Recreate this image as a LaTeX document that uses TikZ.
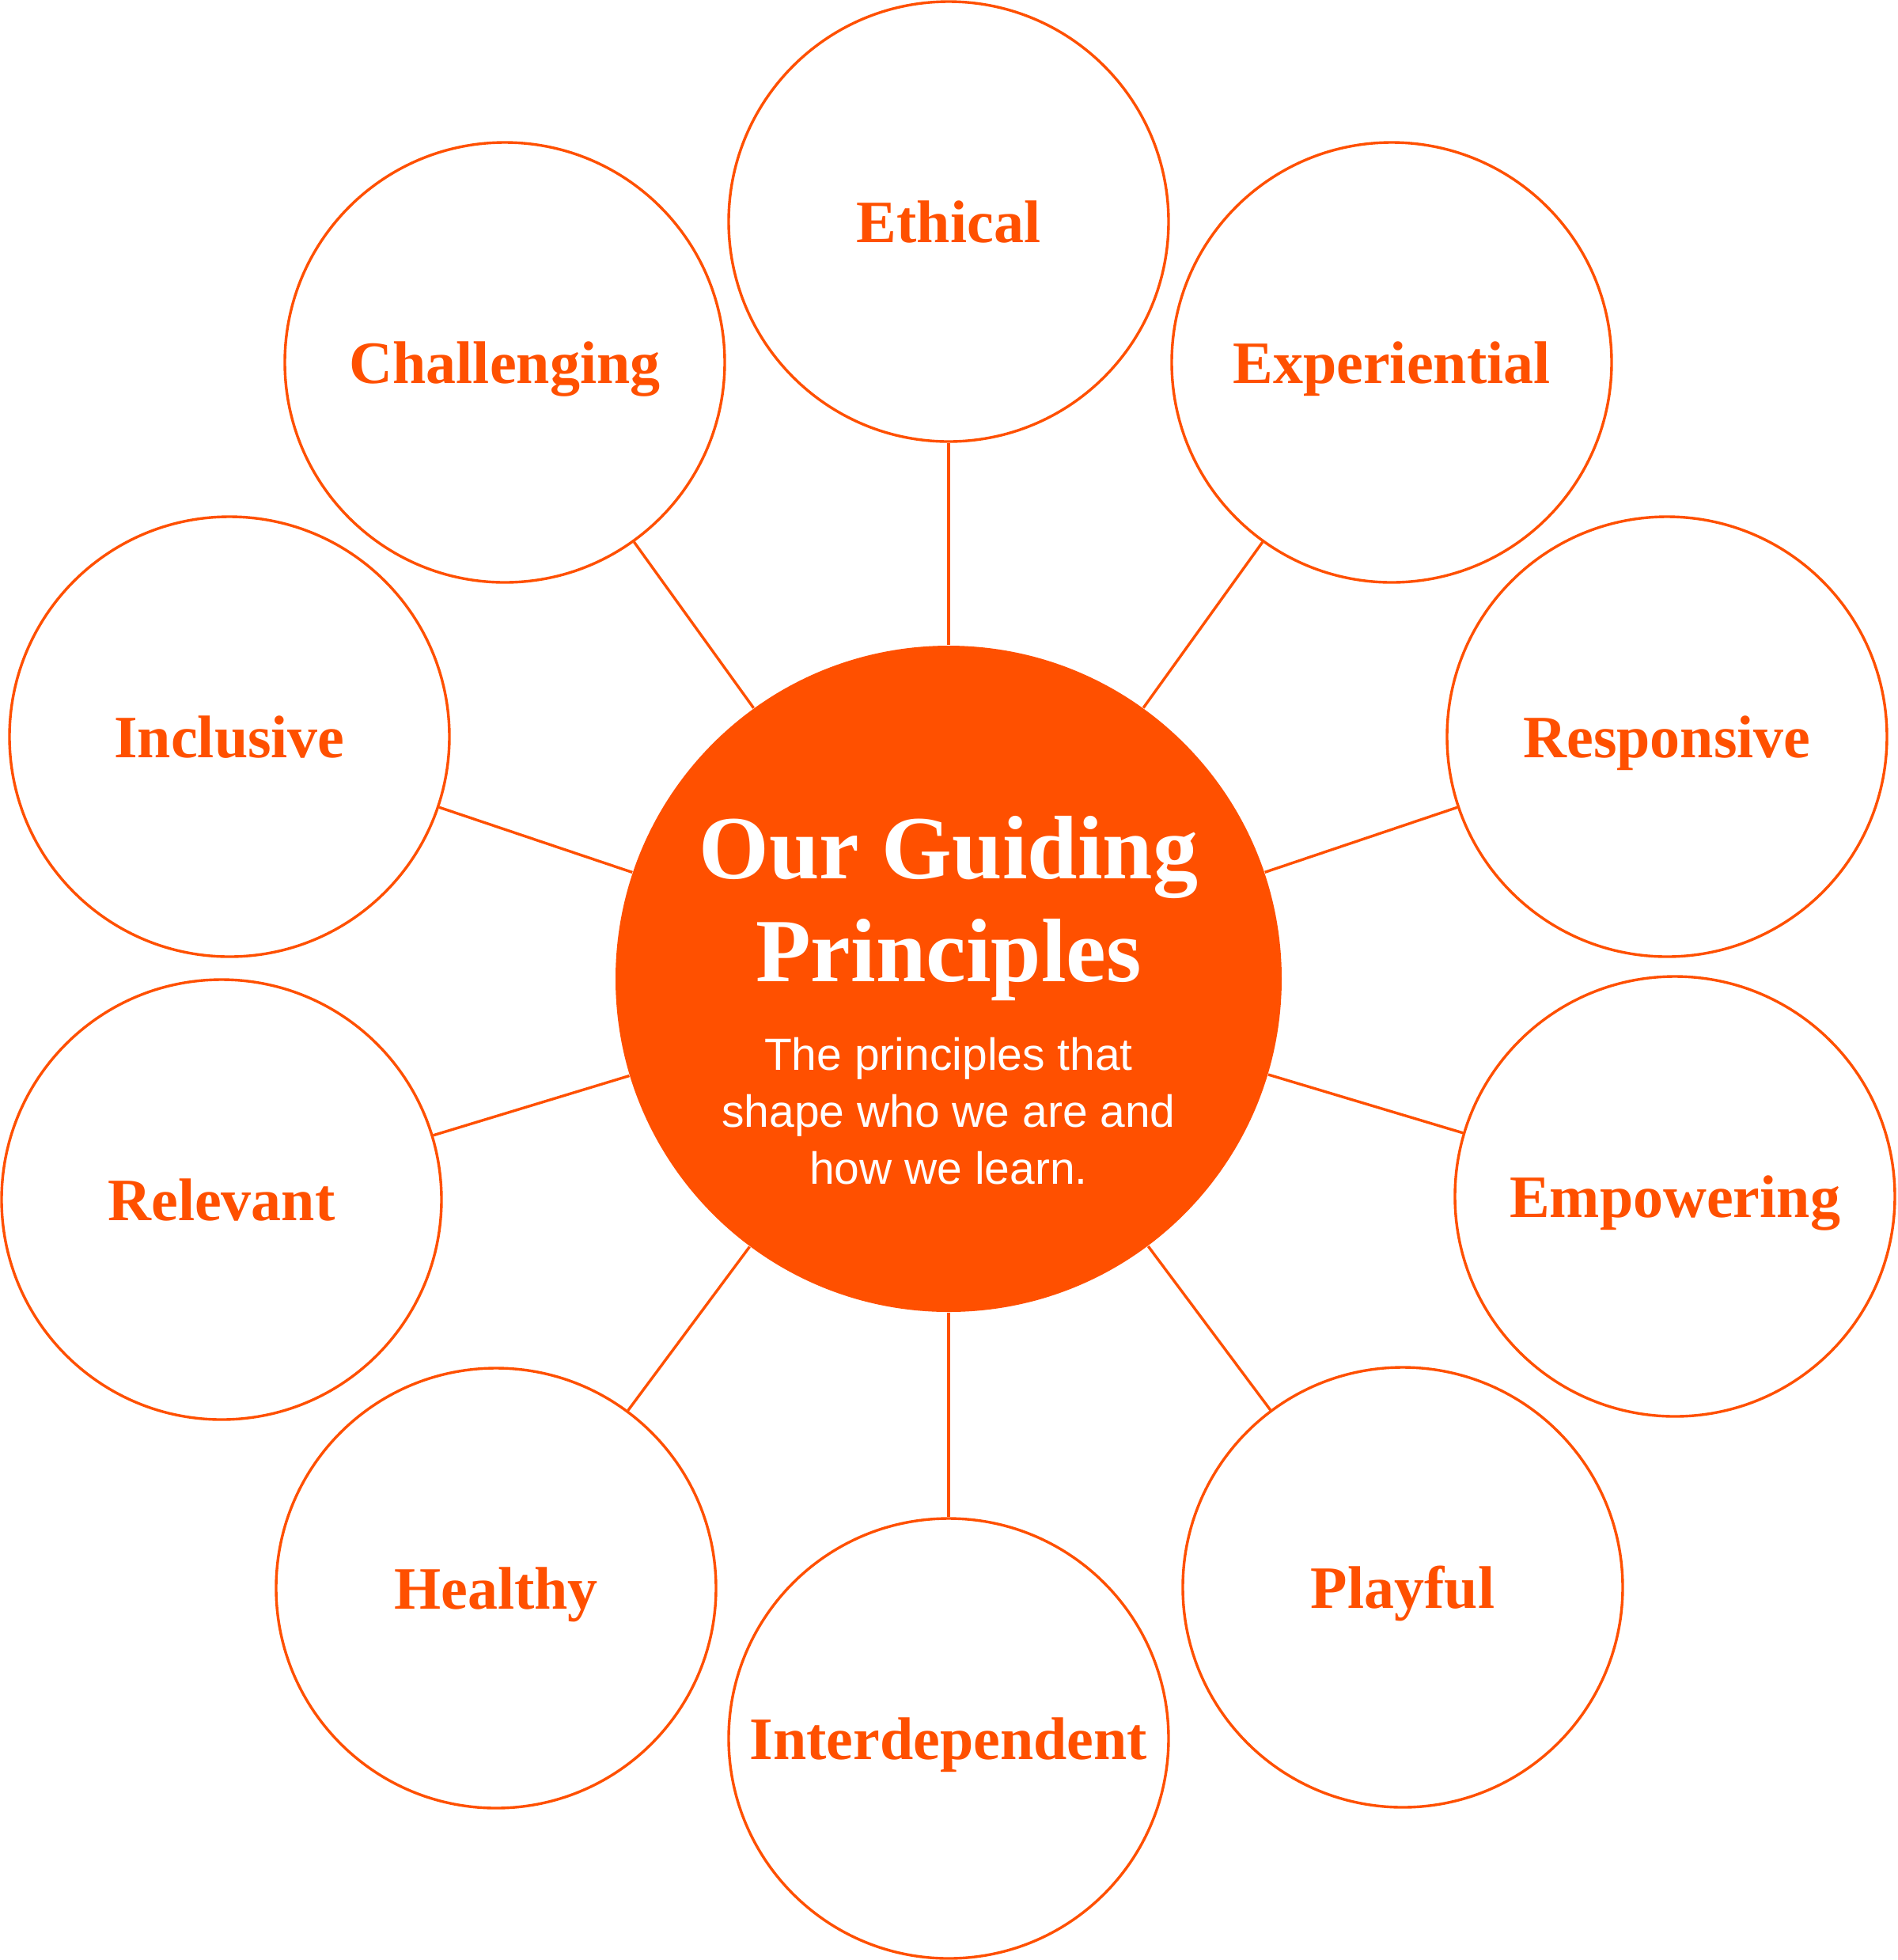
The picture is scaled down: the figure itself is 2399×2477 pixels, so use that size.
\documentclass[tikz,border=0pt]{standalone}
\usepackage{fontspec}
\setmainfont{Liberation Serif}
\newfontfamily\subfont{Liberation Sans}
\usetikzlibrary{positioning}
\definecolor{guideorange}{HTML}{FF5000}

\begin{document}
\begin{tikzpicture}[
x=0.25pt, y=-0.25pt,
principle/.style={
    circle,
    draw=guideorange,
    fill=white,
    line width=0.85pt,
    minimum size=139pt,
    inner sep=0,
    text=guideorange,
    font=\fontsize{19}{22}\selectfont\bfseries,
    text height=13pt,
    text depth=0pt
    },
core/.style={
    circle,
    fill=guideorange,
    minimum size=210.5pt,
    inner sep=0
    },
link/.style={
    line width=0.85pt,
    draw=guideorange}
]
\useasboundingbox (0,0) rectangle (2399,2477);
\node(core) at (1199,1237) [core] {};
\node(ethical) at (1199,280) [principle] {Ethical};
\node(experiential) at (1759,458) [principle] {Experiential};
\node(responsive) at (2107,931) [principle] {Responsive};
\node(empowering) at (2117,1512) [principle] {Empowering};
\node(playful) at (1773,2006) [principle] {Playful};
\node(interdependent) at (1199,2197) [principle] {Interdependent};
\node(healthy) at (627,2007) [principle] {Healthy};
\node(relevant) at (280,1516) [principle] {Relevant};
\node(inclusive) at (290,931) [principle] {Inclusive};
\node(challenging) at (638,458) [principle] {Challenging};
\node(title) at (1199,1240) [anchor=base,align=center,text=white,inner sep=0,
    font=\fontsize{28.5}{32.5}\selectfont\bfseries] {Our Guiding\\Principles};
\node(subtitle) at (1199,1496) [anchor=base,align=center,text=white,inner sep=0,
    font=\fontsize{14.25}{17.9}\selectfont\subfont] {The principles that\\shape who we are and\\how we learn.};
\draw[link] (core) edge (ethical) edge (experiential) edge (responsive)
    edge (empowering) edge (playful) edge (interdependent) edge (healthy)
    edge (relevant) edge (inclusive) edge (challenging);
\end{tikzpicture}
\end{document}
